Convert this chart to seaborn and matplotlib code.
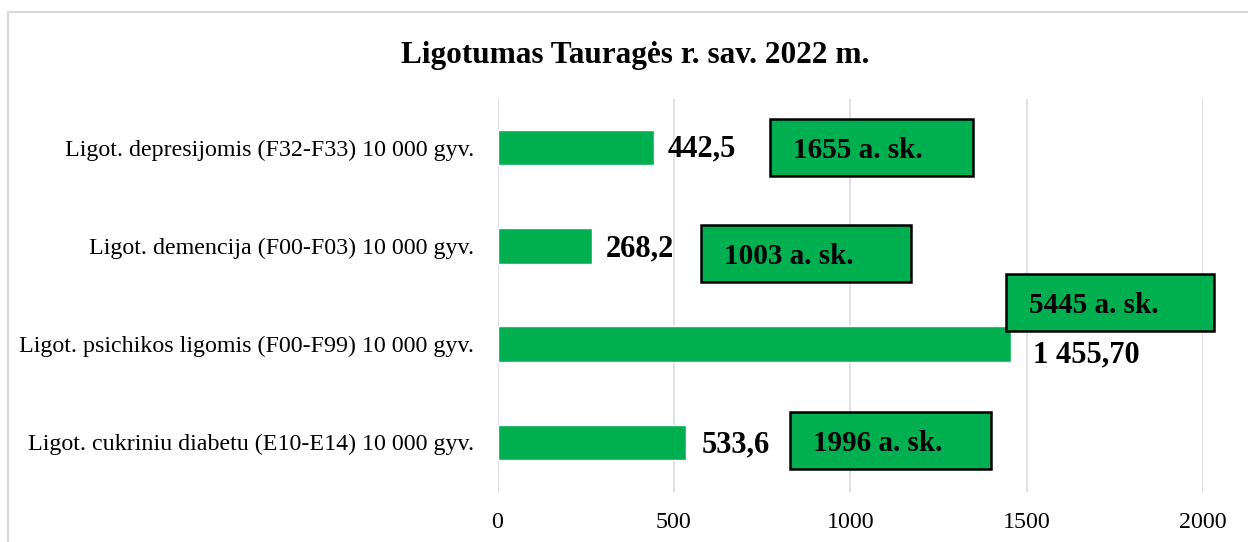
import pandas as pd
import matplotlib
matplotlib.use("Agg")
import matplotlib.pyplot as plt
from matplotlib.patches import Rectangle
import seaborn as sns

# data
categories = [
    "Ligot. depresijomis (F32-F33) 10 000 gyv.",
    "Ligot. demencija (F00-F03) 10 000 gyv.",
    "Ligot. psichikos ligomis (F00-F99) 10 000 gyv.",
    "Ligot. cukriniu diabetu (E10-E14) 10 000 gyv.",
]
rates = [442.5, 268.2, 1455.70, 533.6]
rate_labels = ["442,5", "268,2", "1 455,70", "533,6"]
case_counts = [1655, 1003, 5445, 1996]
x_ticks = [0, 500, 1000, 1500, 2000]

# where the hand-placed callouts sit (left edge / width in x units, centre in category units)
box_left = [772, 576, 1441, 829]
box_width = [576, 595, 589, 570]
box_ycen = [0.0, 1.075, 1.58, 2.985]
box_height = 0.58
# offsets of the value labels from the bar end, pixels
label_dx = [14, 14, 22, 16]
label_dy = [-1, -3, -11, -3]

GREEN = "#00B050"

df = pd.DataFrame({"cat": categories, "rate": rates})

sns.set_style("white")
plt.rcParams["font.family"] = ["Liberation Serif", "DejaVu Serif"]
plt.rcParams["text.color"] = "black"
plt.rcParams["xtick.color"] = "black"
plt.rcParams["ytick.color"] = "black"

fig = plt.figure(figsize=(12.48, 5.42), dpi=100)
ax = fig.add_axes([497.5 / 1248, 1 - 491.5 / 542, 705.5 / 1248, 393 / 542])

sns.barplot(data=df, y="cat", x="rate", orient="h", color=GREEN,
            saturation=1, width=0.36, ax=ax)

ax.set_xlim(0, 2000)
ax.set_ylim(3.5, -0.5)
ax.set_xticks(x_ticks)
ax.set_xticklabels([str(t) for t in x_ticks])
ax.set_xlabel("")
ax.set_ylabel("")
ax.grid(axis="x", color="#d9d9d9", linewidth=1.1)
ax.set_axisbelow(True)
for s in ax.spines.values():
    s.set_visible(False)
ax.tick_params(axis="both", length=0, labelsize=17.3)
ax.tick_params(axis="y", pad=17)
ax.tick_params(axis="x", pad=15)

# value labels next to the bars
for i, (v, lab) in enumerate(zip(rates, rate_labels)):
    ax.annotate(lab, xy=(v, i), xytext=(label_dx[i], label_dy[i]),
                textcoords="offset pixels", ha="left", va="center",
                fontsize=22, fontweight="bold", color="black")

# green callout boxes with the case counts
for i, n in enumerate(case_counts):
    x0 = box_left[i]
    yc = box_ycen[i]
    ax.add_patch(Rectangle((x0, yc - box_height / 2), box_width[i], box_height,
                           facecolor=GREEN, edgecolor="black", linewidth=1.8,
                           clip_on=False, zorder=4))
    ax.annotate(f"{n} a. sk.", xy=(x0, yc), xytext=(23, -3),
                textcoords="offset pixels", ha="left", va="center",
                fontsize=21, fontweight="bold", color="black", zorder=5)

fig.text(635 / 1248, 1 - 56 / 542, "Ligotumas Tauragės r. sav. 2022 m.",
         ha="center", va="center", fontsize=22.5, fontweight="bold")

# outer chart frame (only top and left edges show in the crop)
fig.add_artist(Rectangle((8 / 1248, -0.1), 1.2, 1 - 12 / 542 + 0.1,
                         transform=fig.transFigure, fill=False,
                         edgecolor="#d9d9d9", linewidth=1.5))

fig.savefig("out.png", dpi=100)
